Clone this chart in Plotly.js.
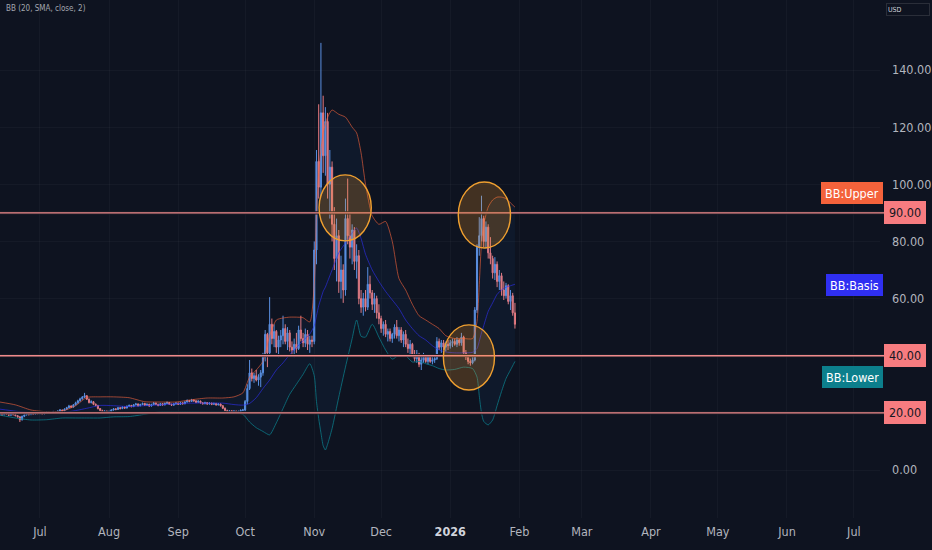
<!DOCTYPE html>
<html>
<head>
<meta charset="utf-8">
<script src="https://cdn.plot.ly/plotly-3.0.1.min.js"></script>
<style>
html,body{margin:0;padding:0;background:#0e1320;}
#chart{width:932px;height:550px;}
</style>
</head>
<body>
<div id="chart"></div>
<script>
// Daily candles [open, high, low, close], first day 2025-06-13
const startDate = '2025-06-13';
const jun2025 = [
[19.4,19.9,19.1,19.6],[19.6,19.8,19.0,19.3],[19.3,20.1,19.2,19.8],[19.8,20.0,19.3,19.5],[19.5,19.7,18.9,19.2],
[19.2,19.9,19.0,19.6],[19.6,19.8,19.1,19.4],[19.4,19.6,18.8,19.0],[19.0,19.2,18.3,18.6],[18.6,18.8,16.8,17.6],
[17.6,19.0,17.3,18.8],[18.8,19.5,18.5,19.3],[19.3,19.9,19.1,19.6],[19.6,19.8,19.1,19.4],[19.4,20.1,19.2,19.8],
[19.8,20.0,19.3,19.5],[19.5,20.2,19.3,19.9],[19.9,20.1,19.5,19.7]];
const jul2025 = [
[19.7,20.3,19.5,20.0],[20.0,20.2,19.4,19.6],[19.6,20.1,19.4,19.9],[19.9,20.6,19.7,20.3],[20.3,20.4,19.6,19.8],
[19.8,20.3,19.6,20.1],[20.1,20.7,19.9,20.4],[20.4,20.5,19.8,20.0],[20.0,20.9,19.9,20.6],[20.6,21.3,20.4,21.0],
[21.0,21.1,20.4,20.7],[20.7,21.6,20.5,21.3],[21.3,22.1,21.1,21.8],[21.8,22.8,21.6,22.4],[22.4,22.6,21.7,22.0],
[22.0,23.1,21.9,22.8],[22.8,23.9,22.6,23.5],[23.5,24.6,23.2,24.2],[24.2,25.3,23.9,24.9],[24.9,25.9,24.6,25.5],
[25.5,27.0,25.2,26.0],[26.0,26.2,24.5,24.8],[24.8,25.0,23.3,23.6],[23.6,24.4,23.3,23.9],[23.9,24.1,22.7,23.0],
[23.0,23.3,22.3,22.6],[22.6,22.8,21.2,21.5],[21.5,21.7,20.5,20.8],[20.8,21.1,20.1,20.4],[20.4,20.9,20.2,20.6],
[20.6,20.8,19.9,20.2]];
const aug2025 = [
[20.2,20.8,20.0,20.5],[20.5,21.3,20.3,21.0],[21.0,21.7,20.8,21.4],[21.4,21.6,20.9,21.2],[21.2,22.1,21.0,21.8],
[21.8,22.0,21.2,21.5],[21.5,22.3,21.3,22.0],[22.0,22.2,21.4,21.7],[21.7,22.6,21.5,22.3],[22.3,22.9,22.0,22.6],
[22.6,22.8,21.9,22.2],[22.2,23.1,22.0,22.8],[22.8,23.5,22.6,23.1],[23.1,23.3,22.2,22.5],[22.5,23.2,22.3,22.9],
[22.9,23.6,22.7,23.3],[23.3,23.5,22.4,22.7],[22.7,23.3,22.5,23.0],[23.0,23.2,22.1,22.4],[22.4,23.2,22.2,22.9],
[22.9,23.8,22.7,23.4],[23.4,23.6,22.8,23.0],[23.0,23.2,22.3,22.6],[22.6,23.5,22.4,23.2],[23.2,23.4,22.5,22.8],
[22.8,23.6,22.6,23.3],[23.3,24.0,23.1,23.6],[23.6,23.8,22.8,23.0],[23.0,23.2,22.4,22.7],[22.7,23.4,22.5,23.1],
[23.1,23.7,22.9,23.4]];
const sep2025 = [
[23.4,23.6,22.8,23.0],[23.0,23.8,22.8,23.5],[23.5,23.7,22.9,23.2],[23.2,24.1,23.0,23.8],[23.8,24.7,23.6,24.3],
[24.3,24.5,23.7,24.0],[24.0,24.9,23.8,24.5],[24.5,24.7,23.9,24.2],[24.2,24.4,23.4,23.7],[23.7,24.4,23.5,24.1],
[24.1,24.3,23.2,23.5],[23.5,23.8,22.9,23.2],[23.2,23.9,23.0,23.6],[23.6,23.8,22.8,23.1],[23.1,23.7,22.9,23.4],
[23.4,23.6,22.7,23.0],[23.0,23.6,22.8,23.3],[23.3,23.5,22.5,22.8],[22.8,23.4,22.6,23.1],[23.1,23.3,22.2,22.5],
[22.5,22.7,21.3,21.6],[21.6,21.9,20.5,20.8],[20.8,21.1,20.0,20.4],[20.4,21.0,20.2,20.7],[20.7,20.9,20.0,20.3],
[20.3,20.9,20.1,20.6],[20.6,20.8,19.9,20.2],[20.2,20.8,20.0,20.5],[20.5,21.2,20.3,20.9],[20.9,21.4,20.6,21.0]];
const oct2025 = [
[21.0,24.5,20.5,24.0],[24.0,30.0,23.0,28.5],[28.5,38.5,28.0,34.0],[34.0,35.5,31.0,32.0],[32.0,34.0,30.5,33.0],
[33.0,35.0,31.0,31.5],[31.5,33.5,29.5,32.5],[32.5,35.0,29.0,34.0],[34.0,41.0,33.0,39.5],[39.5,49.0,38.0,47.5],
[47.5,48.0,36.0,41.0],[41.0,60.5,40.0,51.0],[51.0,53.0,44.0,46.0],[46.0,51.0,43.0,48.5],[48.5,49.0,41.0,43.0],
[43.0,47.0,39.5,45.5],[45.5,49.0,43.0,47.0],[47.0,54.0,44.0,49.5],[49.5,51.0,44.0,45.0],[45.0,50.0,42.0,48.0],
[48.0,49.0,41.5,43.0],[43.0,45.0,40.0,42.0],[42.0,46.0,39.5,44.0],[44.0,48.0,41.0,42.5],[42.5,50.5,42.0,49.0],
[49.0,54.0,45.0,46.0],[46.0,48.0,43.0,44.5],[44.5,49.5,43.0,47.5],[47.5,49.0,42.0,44.0],[44.0,47.0,41.0,45.5],
[45.5,47.0,43.0,45.0]];
const nov2025 = [
[45.0,80.0,44.0,77.0],[77.0,112.0,72.0,108.0],[108.0,128.0,95.0,99.0],[99.0,149.5,96.0,125.0],[125.0,131.0,104.0,110.0],
[110.0,127.0,103.0,122.0],[122.0,125.0,95.0,100.0],[100.0,112.0,88.0,106.0],[106.0,108.0,80.0,86.0],[86.0,92.0,70.0,74.0],
[74.0,88.0,66.0,82.0],[82.0,84.0,62.0,66.0],[66.0,75.0,60.0,70.0],[70.0,72.0,58.5,63.0],[63.0,95.0,61.0,88.0],
[88.0,102.0,79.0,82.0],[82.0,90.0,74.0,78.0],[78.0,86.0,72.0,84.0],[84.0,85.0,70.0,73.0],[73.0,79.0,67.0,75.0],
[75.0,77.0,58.0,60.0],[60.0,63.0,55.0,57.0],[57.0,62.0,54.0,60.0],[60.0,63.0,55.5,57.0],[57.0,71.0,56.0,65.0],
[65.0,68.0,60.0,62.0],[62.0,63.0,56.0,58.0],[58.0,62.0,55.0,60.0],[60.0,61.0,53.0,55.0],[55.0,58.0,51.0,53.0]];
const dec2025 = [
[53.0,54.0,48.0,49.5],[49.5,52.0,47.0,51.0],[51.0,52.5,46.5,47.5],[47.5,49.5,45.0,48.5],[48.5,49.5,45.0,46.0],
[46.0,48.0,44.5,47.5],[47.5,51.0,46.0,50.0],[50.0,52.5,46.0,47.0],[47.0,50.0,45.0,49.0],[49.0,50.0,44.5,45.5],
[45.5,48.5,43.0,47.5],[47.5,49.0,43.0,44.0],[44.0,46.0,41.0,42.5],[42.5,45.5,40.0,44.0],[44.0,44.5,39.5,40.5],
[40.5,42.0,38.0,39.0],[39.0,42.0,37.5,40.5],[40.5,41.0,36.0,37.0],[37.0,40.0,35.0,38.5],[38.5,41.0,37.5,39.5],
[39.5,40.5,37.5,38.0],[38.0,40.0,37.0,39.5],[39.5,40.0,37.5,38.0],[38.0,39.5,37.0,38.5],[38.5,40.0,37.5,39.0],
[39.0,46.5,38.5,45.0],[45.0,46.0,42.0,43.0],[43.0,45.5,41.0,44.5],[44.5,45.5,42.0,43.0],[43.0,45.0,41.5,44.0],
[44.0,45.5,42.0,43.5]];
const jan2026 = [
[43.5,45.5,42.5,44.5],[44.5,46.0,43.0,45.0],[45.0,46.0,43.5,44.0],[44.0,46.5,43.0,45.5],[45.5,46.0,43.5,44.5],
[44.5,48.0,43.5,46.5],[46.5,47.0,40.5,41.0],[41.0,42.0,38.5,39.5],[39.5,40.5,37.0,38.0],[38.0,39.0,36.5,37.5],
[37.5,39.5,37.0,38.5],[38.5,57.0,38.0,56.0],[56.0,79.0,55.0,78.0],[78.0,88.5,75.0,82.0],[82.0,96.0,80.0,88.0],
[88.0,89.0,78.0,80.0],[80.0,87.0,77.5,85.0],[85.0,86.0,74.0,76.0],[76.0,81.5,72.0,74.0],[74.0,75.0,67.0,69.0],
[69.0,74.5,66.5,72.0],[72.0,73.0,64.0,66.0],[66.0,70.0,63.0,68.0],[68.0,69.0,61.0,63.0],[63.0,66.0,59.5,61.0],
[61.0,65.5,60.0,64.5],[64.5,65.0,58.0,59.0],[59.0,63.0,56.0,61.0],[61.0,62.0,54.0,55.0],[55.0,58.5,49.5,51.0]];

// Bollinger band values
const bandDates = ['2025-06-13','2025-06-20','2025-06-27','2025-07-04','2025-07-11','2025-07-17','2025-07-22','2025-07-28',
'2025-08-03','2025-08-10','2025-08-17','2025-08-24','2025-08-31','2025-09-07','2025-09-14','2025-09-21','2025-09-26','2025-09-30',
'2025-10-03','2025-10-06','2025-10-09','2025-10-12','2025-10-15','2025-10-18','2025-10-21','2025-10-24','2025-10-27','2025-10-30',
'2025-11-01','2025-11-02','2025-11-03','2025-11-04','2025-11-05','2025-11-06','2025-11-07','2025-11-09','2025-11-12','2025-11-15',
'2025-11-18','2025-11-20','2025-11-22','2025-11-24','2025-11-27','2025-11-30','2025-12-03','2025-12-06','2025-12-09','2025-12-12',
'2025-12-15','2025-12-18','2025-12-21','2025-12-24','2025-12-27','2025-12-30','2026-01-03','2026-01-07','2026-01-11','2026-01-13',
'2026-01-14','2026-01-15','2026-01-16','2026-01-18','2026-01-20','2026-01-22','2026-01-24','2026-01-26','2026-01-28','2026-01-30'];
const upperBand = [23.8,22.8,21.0,20.4,20.6,22.5,25.4,25.6,25.6,25.3,23.9,23.8,23.8,24.6,25.2,25.2,25.6,27.0,
32.5,35.0,38.0,47.0,52.5,53.2,53.5,53.5,53.3,51.8,65,90,104,112,118,121,123.5,126,124.5,123.5,
120,118,111,100,89,86,87,80,67,63,58,54,52.5,51,49.5,47,46,46,46,52,65,79.5,86,92,94.5,95.5,95.5,95,93.5,92];
const basisBand = [21.3,20.6,20.0,20.0,20.1,20.8,21.6,22.6,22.5,22.2,22.5,22.8,23.2,23.4,23.4,23.4,22.9,22.7,
23.3,25.3,28.5,31.5,35.0,37.5,40.4,42.8,45.3,47.6,50.5,54,57.5,60,62.5,64,66,70,76,79.5,
83,84.7,81,75.5,70,66,62.5,59.5,56.5,52.5,49.5,47,45.5,43.5,42,41.3,41,41,41.2,42.5,45,48,50.5,55.5,58.5,61.5,63,64,64.5,65];
const lowerBand = [19.2,18.2,17.5,17.6,18.2,18.2,18.2,18.2,18.6,18.7,19.5,20.4,20.4,20.4,20.3,20.3,20.0,19.5,
16.8,14.8,13.5,12.3,16.5,21.5,26.5,30.0,33.5,37.2,33,24,18,13,8.5,7,9,14.5,25.5,36,
46,52.5,46.8,46.5,51,46.5,42,38.8,40.2,40,37.8,38,37.2,36.5,35.5,35,35.2,36,35.5,32.5,26,20,17,15.8,17.5,22.5,27.5,32,35,38];

// Horizontal levels and highlighted zones
const levels = [90, 40, 20];
const highlights = [
  {x0:'2025-11-03 04:00', x1:'2025-11-26 14:00', y0:80.2, y1:103.3},
  {x0:'2026-01-04 14:00', x1:'2026-01-28 00:00', y0:77.7, y1:100.8},
  {x0:'2025-12-28 22:00', x1:'2026-01-20 20:00', y0:28.0, y1:50.8}
];
const bandLabels = [
  {text:'BB:Upper', y:97.1, color:'#f4623b'},
  {text:'BB:Basis', y:64.8, color:'#2f2ff2'},
  {text:'BB:Lower', y:32.5, color:'#0c7f8c'}
];
const monthTicks = ['2025-07-01','2025-08-01','2025-09-01','2025-10-01','2025-11-01','2025-12-01','2026-01-01',
'2026-02-01','2026-03-01','2026-04-01','2026-05-01','2026-06-01','2026-07-01'];
const monthLabels = ['Jul','Aug','Sep','Oct','Nov','Dec','<b><span style="color:#d1d4dc">2026</span></b>','Feb','Mar','Apr','May','Jun','Jul'];
// 20 and 40 are covered by the level boxes, so only these axis labels are visible
const priceTicks = [0,60,80,100,120,140];

const candles = [].concat(jun2025, jul2025, aug2025, sep2025, oct2025, nov2025, dec2025, jan2026);
const t0 = Date.parse(startDate + 'T00:00:00Z');
const dates = candles.map((_, i) => new Date(t0 + i * 86400000).toISOString().slice(0, 10));

const FONT = '"Liberation Sans Narrow", "DejaVu Sans Condensed", "Roboto Condensed", "Liberation Sans", sans-serif';

const traces = [
  {type:'scatter', mode:'lines', x:bandDates, y:lowerBand, line:{color:'rgba(12,127,140,0.75)', width:1, shape:'spline', smoothing:0.6}, hoverinfo:'skip'},
  {type:'scatter', mode:'lines', x:bandDates, y:upperBand, fill:'tonexty', fillcolor:'rgba(33,150,243,0.055)', line:{color:'rgba(244,98,59,0.62)', width:1, shape:'spline', smoothing:0.6}, hoverinfo:'skip'},
  {type:'scatter', mode:'lines', x:bandDates, y:basisBand, line:{color:'rgba(47,47,242,0.62)', width:1, shape:'spline', smoothing:0.6}, hoverinfo:'skip'},
  {type:'candlestick', x:dates,
   open:candles.map(r=>r[0]), high:candles.map(r=>r[1]), low:candles.map(r=>r[2]), close:candles.map(r=>r[3]),
   increasing:{line:{color:'#5b8fe0', width:1}, fillcolor:'#5b8fe0'},
   decreasing:{line:{color:'#e9797e', width:1}, fillcolor:'#e9797e'},
   whiskerwidth:0, hoverinfo:'skip'}
];

const shapes = [];
levels.forEach(v => {
  shapes.push({type:'line', xref:'paper', x0:0, x1:1.005, yref:'y', y0:v, y1:v, line:{color:'#1a1d26', width:3.2}, layer:'above'});
  shapes.push({type:'line', xref:'paper', x0:0, x1:1.005, yref:'y', y0:v, y1:v, line:{color:'#f08a8c', width:1.4}, layer:'above'});
});
highlights.forEach(h => {
  shapes.push({type:'circle', xref:'x', yref:'y', x0:h.x0, x1:h.x1, y0:h.y0, y1:h.y1,
    fillcolor:'rgba(255,160,40,0.22)', line:{color:'#f0a030', width:1.4}, layer:'above'});
});

const annotations = [];
levels.forEach(v => {
  annotations.push({xref:'paper', x:1, xshift:4, xanchor:'left', yref:'y', y:v, yanchor:'middle',
    text:v.toFixed(2), showarrow:false, bgcolor:'#f77c80', bordercolor:'#f77c80', borderpad:3,
    font:{family:FONT, size:12.5, color:'#131722'}, width:34, height:15});
});
bandLabels.forEach(b => {
  annotations.push({xref:'paper', x:1, xshift:3, xanchor:'right', yref:'y', y:b.y, yanchor:'middle',
    text:b.text, showarrow:false, bgcolor:b.color, bordercolor:b.color, borderpad:3,
    font:{family:FONT, size:12.5, color:'#ffffff'}, height:14});
});
annotations.push({xref:'paper', x:0.004, xanchor:'left', yref:'paper', y:0.997, yanchor:'top',
  text:'BB (20, SMA, close, 2)', showarrow:false, font:{family:FONT, size:8, color:'#a3a6af'}});
annotations.push({xref:'paper', x:1.0068, xanchor:'left', yref:'paper', y:0.994, yanchor:'top',
  text:'USD', showarrow:false, bgcolor:'#0e1320', bordercolor:'#2a2e39', borderwidth:1, borderpad:1,
  font:{family:FONT, size:7, color:'#d1d4dc'}, width:40, height:9, align:'left'});

const layout = {
  width:932, height:550,
  margin:{l:0, r:52, t:0, b:32},
  paper_bgcolor:'#0e1320', plot_bgcolor:'#0e1320',
  showlegend:false, dragmode:false, hovermode:false,
  font:{family:FONT, color:'#b2b5be', size:12},
  xaxis:{type:'date', range:['2025-06-13 02:00','2026-07-12 17:00'], rangeslider:{visible:false},
    tickvals:monthTicks, ticktext:monthLabels, tickfont:{family:FONT, size:12.5, color:'#b2b5be'},
    showgrid:true, gridcolor:'rgba(255,255,255,0.03)', zeroline:false, showline:false, ticks:'',
    ticklabelstandoff:4, fixedrange:true},
  yaxis:{side:'right', range:[-16.8,164.5], tickvals:priceTicks, ticktext:priceTicks.map(v=>v.toFixed(2)),
    tickfont:{family:FONT, size:12.5, color:'#b2b5be'}, showgrid:true, gridcolor:'rgba(255,255,255,0.03)',
    zeroline:false, showline:false, ticks:'', ticklabelstandoff:11, fixedrange:true},
  shapes:shapes, annotations:annotations
};

Plotly.newPlot('chart', traces, layout, {displayModeBar:false, staticPlot:true});
</script>
</body>
</html>
